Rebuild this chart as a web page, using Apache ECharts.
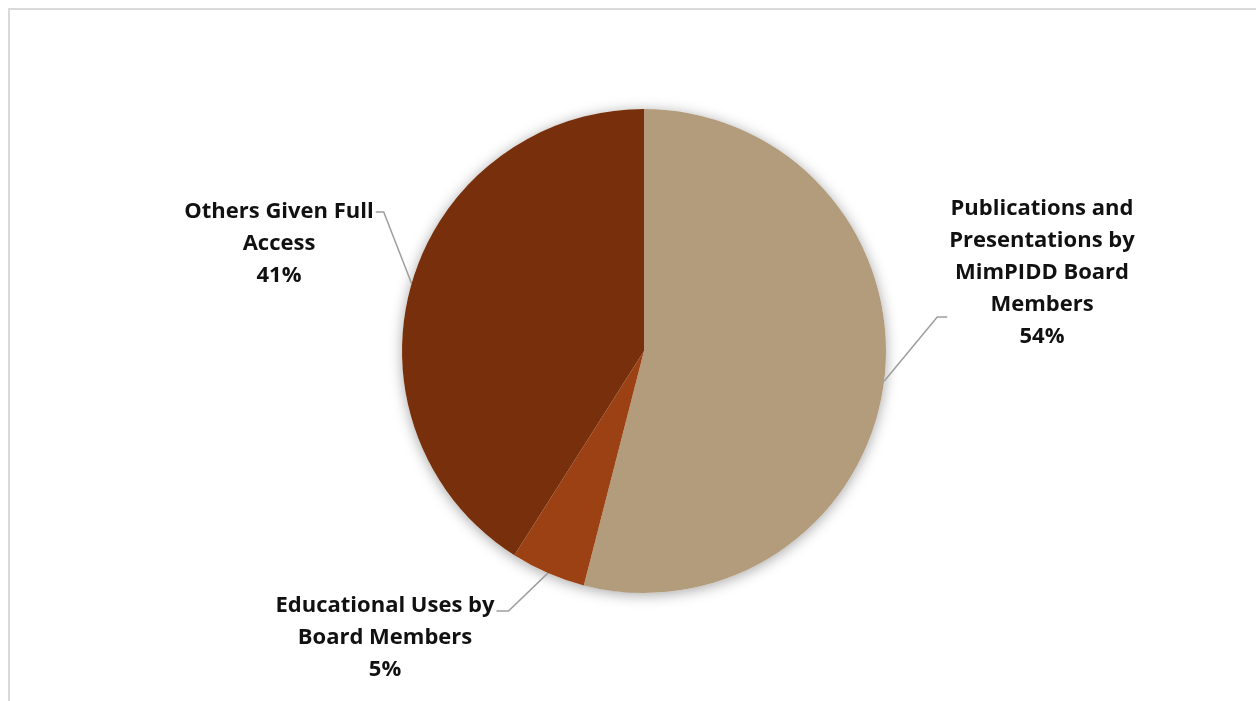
<!DOCTYPE html>
<html>
<head>
<meta charset="utf-8">
<script src="https://cdn.jsdelivr.net/npm/echarts@6/dist/echarts.min.js"></script>
<style>
  html, body { margin: 0; padding: 0; background: #fff; }
  #chart { width: 1256px; height: 701px; }
</style>
</head>
<body>
<div id="chart"></div>
<script>
// Share of data use by category (percent)
const categories = [
  'Publications and\nPresentations by\nMimPIDD Board\nMembers',
  'Educational Uses by\nBoard Members',
  'Others Given Full\nAccess'
];
const shares = [54, 5, 41];
const colors = ['#B29C7C', '#9C4113', '#77300B'];

// Label block placement: centre x, top y, which side the leader attaches to,
// y offset of the attachment point inside the block, and elbow length.
const labelPlacement = [
  { cx: 1042, top: 193, side: 'left',  attachY: 124, elbow: 10 },
  { cx: 385,  top: 590, side: 'right', attachY: 21,  elbow: 12 },
  { cx: 279,  top: 196, side: 'right', attachY: 16,  elbow: 8 }
];

const FONT_FAMILY = 'Open Sans';
const FONT_SIZE = 22;
const LINE_H = 32;

// width of the widest line of a label block
const measureCtx = document.createElement('canvas').getContext('2d');
measureCtx.font = 'bold ' + FONT_SIZE + 'px "' + FONT_FAMILY + '"';
function blockWidth(text) {
  return Math.max.apply(null, text.split('\n').map(s => measureCtx.measureText(s).width));
}
function labelText(name, percent) {
  return name + '\n' + Math.round(percent) + '%';
}

const chart = echarts.init(document.getElementById('chart'), null, { renderer: 'canvas' });
const total = shares.reduce((a, b) => a + b, 0);

chart.setOption({
  animation: false,
  backgroundColor: '#ffffff',
  graphic: [{
    type: 'rect',
    shape: { x: 9, y: 9, width: 1400, height: 800 },
    style: { fill: 'none', stroke: '#d9d9d9', lineWidth: 2 },
    silent: true
  }],
  series: [
    {
      // soft drop shadow underneath the whole pie
      type: 'pie',
      silent: true,
      z: 1,
      center: [644, 351],
      radius: 242,
      label: { show: false },
      labelLine: { show: false },
      itemStyle: {
        color: '#ffffff',
        shadowBlur: 14,
        shadowColor: 'rgba(0,0,0,0.35)',
        shadowOffsetY: 2
      },
      data: [{ value: total, name: 'all' }]
    },
    {
      type: 'pie',
      z: 2,
      center: [644, 351],
      radius: 242,
      startAngle: 90,
      clockwise: true,
      data: categories.map((name, i) => ({
        name: name,
        value: shares[i],
        itemStyle: { color: colors[i] }
      })),
      itemStyle: { borderWidth: 0 },
      emphasis: { disabled: true },
      label: {
        show: true,
        position: 'outside',
        formatter: p => labelText(p.name, p.percent),
        fontFamily: FONT_FAMILY,
        fontWeight: 'bold',
        fontSize: FONT_SIZE,
        lineHeight: LINE_H,
        color: '#111111',
        align: 'center'
      },
      labelLine: {
        show: true,
        lineStyle: { color: '#9e9e9e', width: 1.5 }
      },
      labelLayout: function (params) {
        const i = params.dataIndex;
        const pl = labelPlacement[i];
        const w = blockWidth(categories[i]);
        const edge = params.labelLinePoints[0];
        const ay = pl.top + pl.attachY;
        let endX, elbowX;
        if (pl.side === 'left') {
          endX = pl.cx - w / 2 - 2;
          elbowX = endX - pl.elbow;
        } else {
          endX = pl.cx + w / 2 + 2;
          elbowX = endX + pl.elbow;
        }
        return {
          x: pl.cx,
          y: pl.top,
          align: 'center',
          verticalAlign: 'top',
          labelLinePoints: [edge, [elbowX, ay], [endX, ay]]
        };
      }
    }
  ]
});
</script>
</body>
</html>
